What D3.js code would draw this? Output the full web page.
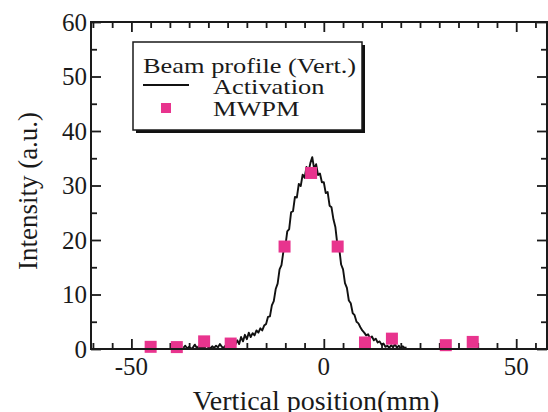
<!DOCTYPE html>
<html>
<head>
<meta charset="utf-8">
<script src="https://cdn.jsdelivr.net/npm/d3@7"></script>
</head>
<body style="margin:0; background:#fff">
<div id="chart"></div>
<script>
// MWPM measurement points
var mwpmPos = [-45, -38.2, -31.1, -24.2, -10.2, -3.3, 3.6, 10.7, 17.7, 31.7, 38.7];
var mwpmVal = [0.4, 0.35, 1.4, 1.0, 18.8, 32.3, 18.8, 1.2, 1.9, 0.7, 1.3];

// Activation profile [position, intensity]
var activation = [
  [-36.5, 0.2], [-36, 0.6], [-35.5, 0.1], [-35, 0.4], [-34.5, 0.0], [-34, 0.3],
  [-33.5, 0.8], [-33, 0.2], [-32.5, 0.5], [-32, 0.1], [-31.5, 0.4], [-31, 0.2],
  [-30.5, 0.7], [-30, 0.3], [-29.5, 0.1], [-29, 0.5], [-28.5, 0.2], [-28, 0.6],
  [-27.5, 0.3], [-27, 0.9], [-26.5, 0.4], [-26, 0.2], [-25.5, 0.7], [-25, 0.5],
  [-24.5, 1.0], [-24, 0.6], [-23.5, 1.2], [-23, 0.8], [-22.5, 1.6], [-22, 0.9],
  [-21.5, 2.2], [-21, 1.4], [-20.5, 2.6], [-20, 1.8], [-19.5, 3.0], [-19, 2.2],
  [-18.5, 2.9], [-18, 2.5], [-17.5, 3.4], [-17, 3.0], [-16.5, 3.8], [-16, 3.4],
  [-15.5, 4.3], [-15, 4.6], [-14.5, 5.9], [-14, 6.0], [-13.5, 8.0], [-13, 8.8],
  [-12.5, 11.0], [-12, 12.0], [-11.5, 14.6], [-11, 15.4], [-10.5, 17.9], [-10, 18.8],
  [-9.5, 21.6], [-9, 22.0], [-8.5, 25.1], [-8, 25.3], [-7.5, 27.9], [-7, 27.8],
  [-6.5, 30.3], [-6, 29.9], [-5.5, 32.0], [-5, 31.4], [-4.5, 33.4], [-4, 32.4],
  [-3.5, 34.1], [-3, 35.2], [-2.5, 33.0], [-2, 33.9], [-1.5, 31.9], [-1, 32.2],
  [-0.5, 30.6], [0, 30.6], [0.5, 28.6], [1, 28.8], [1.5, 26.3], [2, 26.0],
  [2.5, 23.8], [3, 22.4], [3.5, 19.3], [4, 18.5], [4.5, 15.5], [5, 14.6],
  [5.5, 12.1], [6, 11.2], [6.5, 8.9], [7, 8.4], [7.5, 6.6], [8, 6.2],
  [8.5, 5.0], [9, 4.7], [9.5, 4.0], [10, 3.4], [10.5, 3.0], [11, 2.5],
  [11.5, 2.7], [12, 2.0], [12.5, 2.3], [13, 1.6], [13.5, 1.9], [14, 1.2],
  [14.5, 1.4], [15, 0.8], [15.5, 1.0], [16, 0.4], [16.5, 0.6], [17, 0.2],
  [17.5, 0.7], [18, 0.3], [18.5, 0.9], [19, 0.2], [19.5, 0.6], [20, 0.1],
  [20.5, 0.5], [21, 0.2], [21.5, 0.3]
];

var xMajor = [-50, 0, 50];
var xMinor = [-60, -55, -45, -40, -35, -30, -25, -20, -15, -10, -5, 5, 10, 15, 20, 25, 30, 35, 40, 45, 55];
var yMajor = [0, 10, 20, 30, 40, 50, 60];
var yMinor = [5, 15, 25, 35, 45, 55];

var svgWidth = 548;
var svgHeight = 412;
var margin = { top: 22, right: 1, bottom: 63, left: 91 };
var width = svgWidth - margin.left - margin.right;
var height = svgHeight - margin.top - margin.bottom;

var pink = "#e8348e";
var ink = "#1a1a1a";
var serif = "'Liberation Serif'";

var svg = d3.select("#chart")
  .append("svg")
  .attr("width", svgWidth)
  .attr("height", svgHeight);

var chartGroup = svg.append("g")
  .attr("transform", `translate(${margin.left}, ${margin.top})`);

var xScale = d3.scaleLinear().domain([-60.5, 58]).range([0, width]);
var yScale = d3.scaleLinear().domain([0, 60]).range([height, 0]);

// ticks, all pointing inward
function tickAxis(axis, values, size) {
  var g = chartGroup.append("g");
  g.call(axis.tickValues(values).tickSizeInner(size).tickSizeOuter(0).tickFormat(""));
  g.select(".domain").remove();
  g.selectAll("line").attr("stroke", ink).attr("stroke-width", 1.8);
  return g;
}

tickAxis(d3.axisBottom(xScale), xMajor, -10).attr("transform", `translate(0, ${height})`);
tickAxis(d3.axisBottom(xScale), xMinor, -6).attr("transform", `translate(0, ${height})`);
tickAxis(d3.axisTop(xScale), xMajor, -10);
tickAxis(d3.axisTop(xScale), xMinor, -6);
tickAxis(d3.axisLeft(yScale), yMajor, -10);
tickAxis(d3.axisLeft(yScale), yMinor, -6);
tickAxis(d3.axisRight(yScale), yMajor, -10).attr("transform", `translate(${width}, 0)`);
tickAxis(d3.axisRight(yScale), yMinor, -6).attr("transform", `translate(${width}, 0)`);

// tick labels
chartGroup.append("g")
  .selectAll("text")
  .data(xMajor)
  .enter()
  .append("text")
  .attr("x", d => xScale(d))
  .attr("y", height + 26)
  .attr("text-anchor", "middle")
  .style("font-family", serif)
  .style("font-size", "25px")
  .attr("fill", ink)
  .text(d => d < 0 ? "-" + Math.abs(d) : d);

chartGroup.append("g")
  .selectAll("text")
  .data(yMajor)
  .enter()
  .append("text")
  .attr("x", -4)
  .attr("y", d => yScale(d))
  .attr("dy", "0.34em")
  .attr("text-anchor", "end")
  .style("font-family", serif)
  .style("font-size", "25px")
  .attr("fill", ink)
  .text(d => d);

// activation trace
var line = d3.line()
  .x(d => xScale(d[0]))
  .y(d => yScale(d[1]));

chartGroup.append("path")
  .datum(activation)
  .attr("d", line)
  .attr("fill", "none")
  .attr("stroke", "#111")
  .attr("stroke-width", 1.9)
  .attr("stroke-linejoin", "round");

// MWPM squares
var sq = 12;
chartGroup.selectAll(".mwpm")
  .data(mwpmPos)
  .enter()
  .append("rect")
  .attr("class", "mwpm")
  .attr("x", d => xScale(d) - sq / 2)
  .attr("y", (d, i) => yScale(mwpmVal[i]) - sq / 2)
  .attr("width", sq)
  .attr("height", sq)
  .attr("fill", pink);

// frame
chartGroup.append("rect")
  .attr("width", width)
  .attr("height", height)
  .attr("fill", "none")
  .attr("stroke", ink)
  .attr("stroke-width", 2);

// legend
var legend = svg.append("g").attr("transform", "translate(133, 42)");
legend.append("rect")
  .attr("x", 3).attr("y", 3)
  .attr("width", 229).attr("height", 88)
  .attr("fill", "#111");
legend.append("rect")
  .attr("width", 229).attr("height", 88)
  .attr("fill", "#fff")
  .attr("stroke", ink)
  .attr("stroke-width", 1.5);

function legendText(x, y, str) {
  legend.append("text")
    .attr("transform", `translate(${x}, ${y}) scale(1.2, 1)`)
    .style("font-family", serif)
    .style("font-size", "22px")
    .attr("fill", ink)
    .text(str);
}
legendText(10, 31, "Beam profile (Vert.)");
legend.append("line")
  .attr("x1", 10).attr("x2", 56)
  .attr("y1", 43).attr("y2", 43)
  .attr("stroke", "#111").attr("stroke-width", 1.8);
legendText(80, 52, "Activation");
legend.append("rect")
  .attr("x", 28).attr("y", 61)
  .attr("width", 10).attr("height", 10)
  .attr("fill", pink);
legendText(80, 74, "MWPM");

// axis titles
svg.append("text")
  .attr("x", 316)
  .attr("y", 410)
  .attr("text-anchor", "middle")
  .style("font-family", serif)
  .style("font-size", "28px")
  .attr("fill", ink)
  .text("Vertical position(mm)");

svg.append("text")
  .attr("transform", "translate(37, 191) rotate(-90)")
  .attr("text-anchor", "middle")
  .style("font-family", serif)
  .style("font-size", "27px")
  .attr("fill", ink)
  .text("Intensity (a.u.)");
</script>
</body>
</html>
